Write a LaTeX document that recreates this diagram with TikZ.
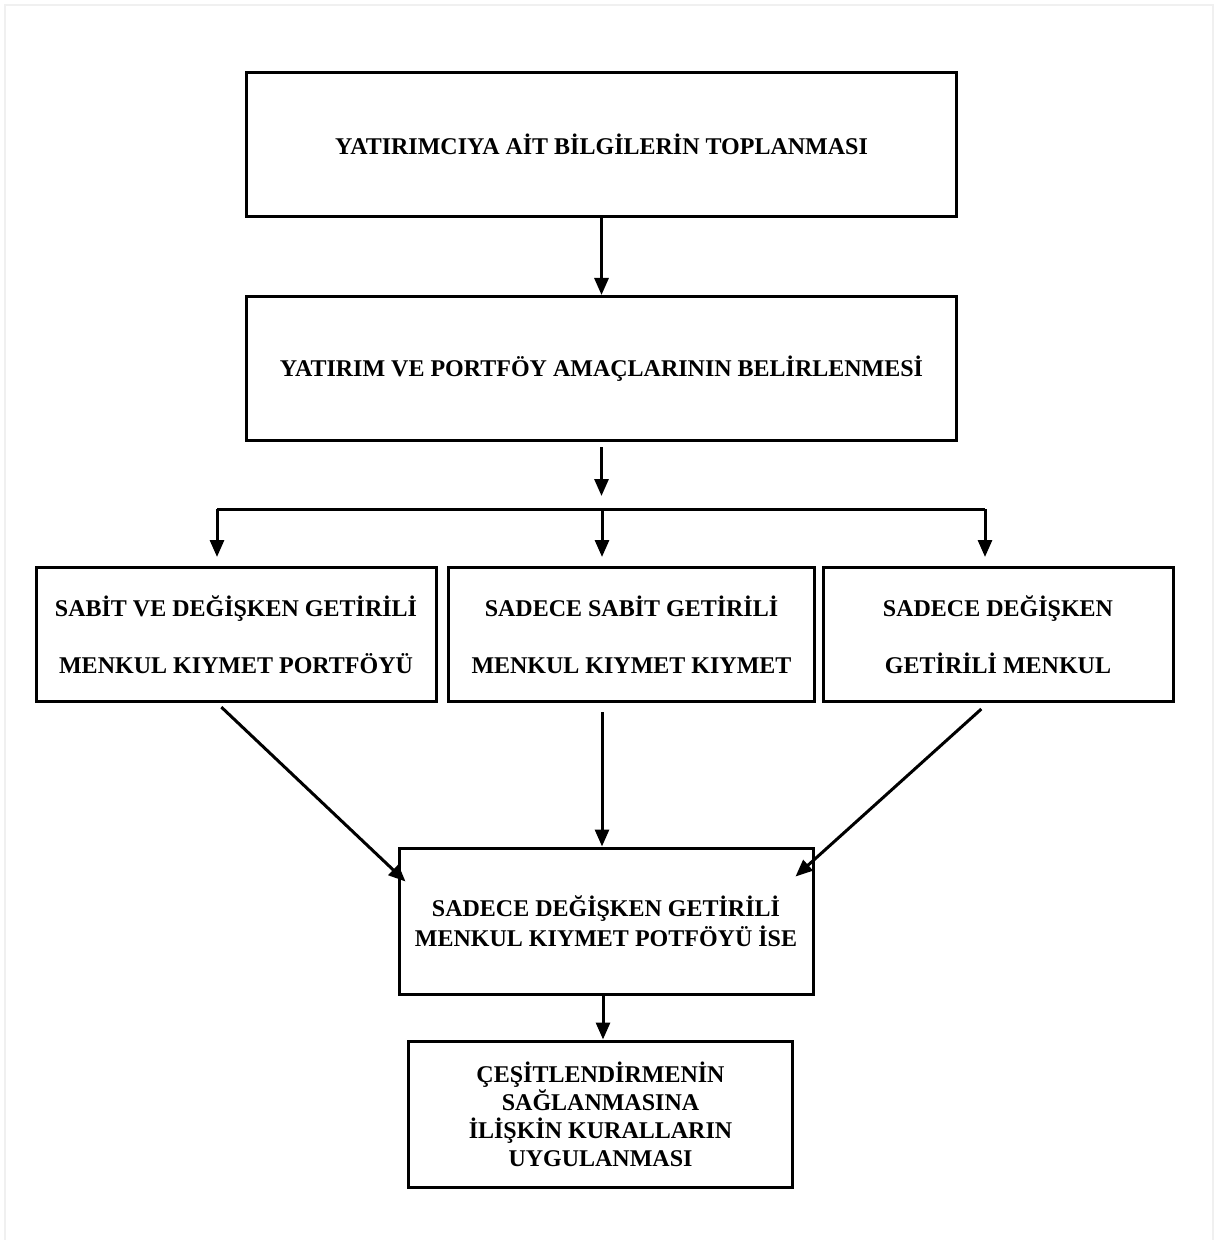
\documentclass[tikz,border=0pt]{standalone}
\usepackage{fontspec}
\setmainfont{Liberation Serif}
\usepackage{xcolor}
\usetikzlibrary{arrows.meta}

\begin{document}
\begin{tikzpicture}[x=0.5pt, y=-0.5pt,
    every node/.style={font=\fontsize{12}{15}\selectfont\bfseries},
    stagebox/.style={draw, rectangle, line width=1.5pt, align=center, inner sep=0pt},
    widebox/.style={stagebox, minimum width=355pt, minimum height=72pt},
    optionbox/.style={stagebox, minimum height=67pt, font=\fontsize{12}{28.5}\selectfont\bfseries},
    flow/.style={-{Triangle[width=7pt, length=8.5pt]}, line width=1.5pt}]
    % Page frame and size
    \useasboundingbox (0,0) rectangle (1219,1240);
    \draw[gray!12, line width=1pt] (5,1240) -- (5,5) -- (1213,5) -- (1213,1240);

    % Top steps - positioned explicitly
    \node[widebox] (collect) at (601.5,144.5) {YATIRIMCIYA AİT BİLGİLERİN TOPLANMASI};
    \node[widebox] (goals) at (601.5,368.5) {YATIRIM VE PORTFÖY AMAÇLARININ BELİRLENMESİ};

    % Portfolio options
    \node[optionbox, minimum width=200pt] (mixed) at (236,634.5) {SABİT VE DEĞİŞKEN GETİRİLİ\\MENKUL KIYMET PORTFÖYÜ};
    \node[optionbox, minimum width=183pt] (fixed) at (631.5,634.5) {SADECE SABİT GETİRİLİ\\MENKUL KIYMET KIYMET};
    \node[optionbox, minimum width=175pt] (variable) at (998,634.5) {SADECE DEĞİŞKEN\\GETİRİLİ MENKUL};

    % Condition and rules
    \node[stagebox, minimum width=207pt, minimum height=73pt] (check) at (606,921) {SADECE DEĞİŞKEN GETİRİLİ\\MENKUL KIYMET POTFÖYÜ İSE};
    \node[stagebox, minimum width=192pt, minimum height=73pt, font=\fontsize{12}{14}\selectfont\bfseries] (rules) at (600.5,1114) {ÇEŞİTLENDİRMENİN\\SAĞLANMASINA\\İLİŞKİN KURALLARIN\\UYGULANMASI};

    % Fork points
    \coordinate (split) at (601.5,496);
    \coordinate (forkL) at (217,509);
    \coordinate (forkM) at (602,509);
    \coordinate (forkR) at (985,509);

    % Arrows
    \draw[flow] (collect.south) -- (goals.north);
    \draw[flow, shorten <=2.5pt] (goals.south) -- (split);
    \draw[line width=1.5pt] (forkL) -- (forkR);
    \draw[flow, shorten >=4.5pt] (forkL) -- (forkL |- mixed.north);
    \draw[flow, shorten >=4.5pt] (forkM) -- (forkM |- fixed.north);
    \draw[flow, shorten >=4.5pt] (forkR) -- (forkR |- variable.north);
    \draw[flow, shorten <=3pt] (forkL |- mixed.south) -- ([shift={(8,35)}]check.north west);
    \draw[flow, shorten <=4.5pt] (forkM |- fixed.south) -- (forkM |- check.north);
    \draw[flow, shorten <=4.5pt] ([xshift=1.5pt]forkR |- variable.south) -- ([shift={(-19,30)}]check.north east);
    \draw[flow] ([xshift=-1.5pt]check.south) -- ([xshift=-1.5pt]check.south |- rules.north);
\end{tikzpicture}
\end{document}
